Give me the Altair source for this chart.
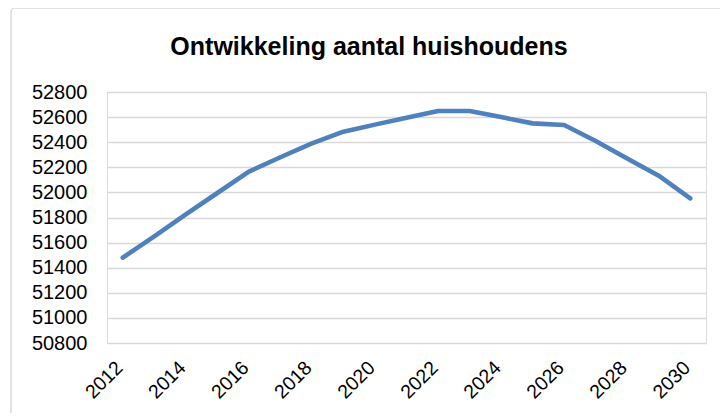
import altair as alt
import pandas as pd

title_text = "Ontwikkeling aantal huishoudens"
years = list(range(2012, 2031))
households = [51480, 51650, 51825, 51995, 52165, 52280, 52391, 52484, 52540,
              52595, 52649, 52649, 52600, 52550, 52537, 52410, 52270, 52133, 51953]
tick_years = [2012, 2014, 2016, 2018, 2020, 2022, 2024, 2026, 2028, 2030]
y_ticks = list(range(50800, 52801, 200))

df = pd.DataFrame({"jaar": years, "huishoudens": households})
title_df = pd.DataFrame({"titel": [title_text]})

FONT = "Liberation Sans"

line = alt.Chart(df).mark_line(
    color="#4F81BD", strokeWidth=4.6, strokeCap="round", strokeJoin="round"
).encode(
    x=alt.X("jaar:Q",
            scale=alt.Scale(domain=[2011.5, 2030.5], nice=False, zero=False),
            axis=alt.Axis(values=tick_years, format="d", title=None, labelAngle=-45,
                          labelAlign="right", labelBaseline="top",
                          grid=False, domain=False, ticks=False, labelPadding=15,
                          labelOffset=-10,
                          labelFontSize=19.5, labelFont=FONT, labelColor="#000000",
                          labelOverlap=False)),
    y=alt.Y("huishoudens:Q",
            scale=alt.Scale(domain=[50800, 52800], nice=False, zero=False),
            axis=alt.Axis(values=y_ticks, format="d", title=None, grid=True,
                          gridColor="#D9D9D9", gridWidth=1.3, domain=False, ticks=False,
                          labelPadding=20, labelFontSize=20, labelFont=FONT,
                          labelColor="#000000")),
)

border = alt.Chart(title_df).mark_rect(
    fill=None, stroke="#D9D9D9", strokeWidth=1.5, cornerRadius=4, clip=False
).encode(
    x=alt.value(-96), x2=alt.value(640), y=alt.value(-84), y2=alt.value(340)
)

title = alt.Chart(title_df).mark_text(
    font=FONT, fontSize=25, fontWeight="bold", color="#000000",
    align="center", baseline="alphabetic", clip=False
).encode(
    text="titel:N", x=alt.value(262), y=alt.value(-37)
)

chart = alt.layer(border, line, title).properties(
    width=599,
    height=251,
    autosize=alt.AutoSizeParams(type="none"),
    padding={"left": 99, "top": 84, "right": 14, "bottom": 70},
).configure_view(stroke=None).configure(background="white")

chart.save("out.html", embed_options={"renderer": "svg", "actions": False})
